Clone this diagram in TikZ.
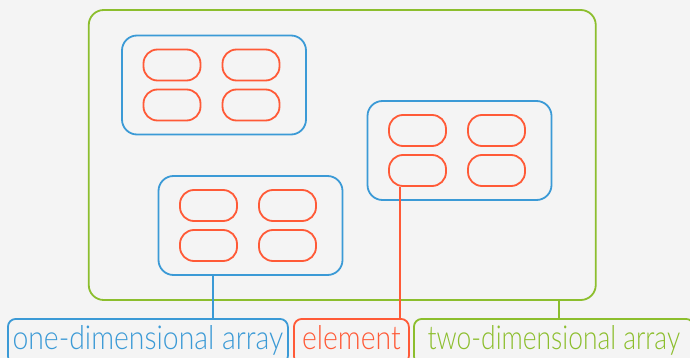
\documentclass[tikz,border=0pt]{standalone}
\usepackage{fontspec}
\setmainfont{Lato}[UprightFont=* Light, FakeStretch=0.86]
\definecolor{arrayblue}{RGB}{59,154,214}
\definecolor{elemred}{RGB}{255,90,55}
\definecolor{gridgreen}{RGB}{140,190,45}
\definecolor{bggray}{RGB}{244,244,244}

\begin{document}
\begin{tikzpicture}[x=1pt, y=-1pt,
        elem/.style={draw=elemred, line width=1.8pt, rounded corners=14pt, minimum width=57pt, minimum height=31pt, inner sep=0pt},
        onedim/.style={draw=arrayblue, line width=1.8pt, rounded corners=15pt, minimum width=184pt, minimum height=99pt, inner sep=0pt},
        twodim/.style={draw=gridgreen, line width=1.8pt, rounded corners=15pt, minimum width=507pt, minimum height=290pt, inner sep=0pt},
        tag/.style={line width=1.8pt, rounded corners=8pt, anchor=north west, minimum height=45pt, inner sep=0pt, text height=24pt, text depth=7pt, font=\fontsize{33}{38}\selectfont},
        link/.style={line width=1.8pt}
    ]
        \fill[bggray] (0,0) rectangle (690,358);
        \clip (0,0) rectangle (690,358);

        % Two-dimensional array
        \node (grid) [twodim] at (342.25,155) {};

        % One-dimensional arrays
        \node (arrA) [onedim] at (214,85) {};
        \node (arrB) [onedim] at (459.5,150.5) {};
        \node (arrC) [onedim] at (250.5,225.5) {};

        % Elements
        \node (a11) [elem] at (172,65) {};
        \node (a12) [elem] at (251,65) {};
        \node (a21) [elem] at (172,105) {};
        \node (a22) [elem] at (251,105) {};
        \node (b11) [elem] at (417.5,130.5) {};
        \node (b12) [elem] at (496.5,130.5) {};
        \node (b21) [elem] at (417.5,170.5) {};
        \node (b22) [elem] at (496.5,170.5) {};
        \node (c11) [elem] at (208.5,205.5) {};
        \node (c12) [elem] at (287.5,205.5) {};
        \node (c21) [elem] at (208.5,245.5) {};
        \node (c22) [elem] at (287.5,245.5) {};

        % Labels
        \node (oned) [tag, draw=arrayblue, text=arrayblue, minimum width=280pt] at (7,318) {one-dimensional array};
        \node (elabel) [tag, draw=elemred, text=elemred, minimum width=115pt] at (293,318) {element};
        \node (twod) [tag, draw=gridgreen, text=gridgreen, minimum width=280pt] at (413,318) {\scalebox{0.93}[1]{two-dimensional array}};

        % Connectors
        \coordinate (xa) at (212.7,0);
        \coordinate (xe) at (400,0);
        \coordinate (xg) at (559,0);
        \draw [link, arrayblue] (arrC.south -| xa) -- (oned.north -| xa);
        \draw [link, elemred] (b21.south -| xe) -- (elabel.north -| xe);
        \draw [link, gridgreen] (grid.south -| xg) -- (twod.north -| xg);
    \end{tikzpicture}
\end{document}
